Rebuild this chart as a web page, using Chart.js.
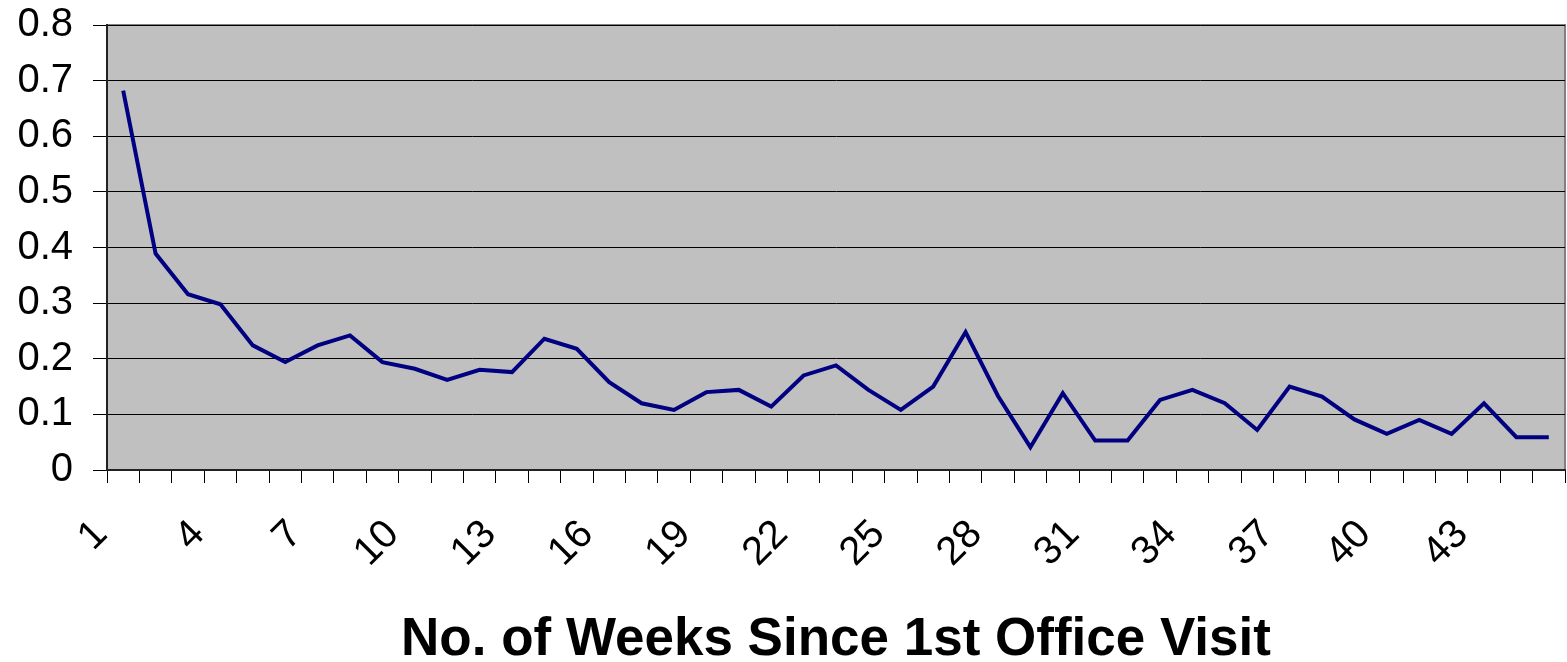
<!DOCTYPE html>
<html>
<head>
<meta charset="utf-8">
<script src="https://cdn.jsdelivr.net/npm/chart.js@4/dist/chart.umd.min.js"></script>
<style>
  body { margin: 0; background: #fff; }
  #wrap { width: 1567px; height: 662px; }
</style>
</head>
<body>
<div id="wrap"><canvas id="weeksChart"></canvas></div>
<script>
// weeks 1..45 since first office visit
const weeks = []
for (let w = 1; w <= 45; w++) weeks.push(String(w))

const rates = [
  0.682, 0.389, 0.316, 0.298, 0.224, 0.194, 0.224, 0.242, 0.194, 0.182,
  0.162, 0.180, 0.176, 0.236, 0.218, 0.158, 0.120, 0.108, 0.140, 0.144,
  0.114, 0.170, 0.188, 0.144, 0.108, 0.150, 0.248, 0.133, 0.041, 0.138,
  0.053, 0.053, 0.126, 0.144, 0.120, 0.072, 0.150, 0.132, 0.091, 0.065,
  0.090, 0.065, 0.120, 0.059, 0.059
]

const yTicks = [0, 0.1, 0.2, 0.3, 0.4, 0.5, 0.6, 0.7, 0.8]

// grey plot area like the old excel chart
const plotBg = {
  id: 'plotBg',
  beforeDraw(chart) {
    const a = chart.chartArea
    const ctx = chart.ctx
    ctx.save()
    ctx.fillStyle = '#c0c0c0'
    ctx.fillRect(a.left, a.top, a.right - a.left, a.bottom - a.top)
    ctx.strokeStyle = '#808080'
    ctx.lineWidth = 2
    ctx.strokeRect(a.left, a.top, a.right - a.left, a.bottom - a.top)
    ctx.restore()
  }
}

const chart = new Chart('weeksChart', {
  type: 'line',
  plugins: [plotBg],
  data: {
    labels: weeks,
    datasets: [{
      data: rates,
      borderColor: '#000080',
      borderWidth: 4,
      pointRadius: 0,
      tension: 0,
      fill: false
    }]
  },
  options: {
    responsive: true,
    maintainAspectRatio: false,
    animation: false,
    layout: { padding: { top: 25, right: 2, left: 0, bottom: 0 } },
    plugins: { legend: { display: false }, tooltip: { enabled: false } },
    scales: {
      x: {
        type: 'category',
        offset: true,
        afterFit(scale) {
          scale.height = 192
          scale.paddingLeft = 0
          scale.paddingRight = 0
        },
        grid: { offset: true, drawOnChartArea: false, tickLength: 13, color: '#000', lineWidth: 1 },
        border: { color: '#222', width: 2 },
        ticks: {
          autoSkip: false,
          maxRotation: 45,
          minRotation: 45,
          padding: 28,
          labelOffset: -22,
          color: '#000',
          font: { family: 'Arial, "Liberation Sans", sans-serif', size: 40 },
          callback(val, i) { return i % 3 === 0 ? weeks[i] : '' }
        },
        title: {
          display: true,
          text: 'No. of Weeks Since 1st Office Visit',
          color: '#000',
          padding: { top: 0, bottom: 0 },
          font: { family: 'Arial, "Liberation Sans", sans-serif', size: 53, weight: 'bold', lineHeight: 0.8 }
        }
      },
      y: {
        min: 0,
        max: 0.8,
        afterFit(scale) {
          scale.width = 107
          scale.paddingTop = 0
          scale.paddingBottom = 0
        },
        afterBuildTicks(scale) { scale.ticks = yTicks.map(v => ({ value: v })) },
        grid: { color: '#000', lineWidth: 1, tickLength: 14 },
        border: { color: '#222', width: 2 },
        ticks: {
          padding: 20,
          color: '#000',
          font: { family: 'Arial, "Liberation Sans", sans-serif', size: 40 },
          callback(v) { return String(+v.toFixed(1)) }
        }
      }
    }
  }
})
</script>
</body>
</html>
